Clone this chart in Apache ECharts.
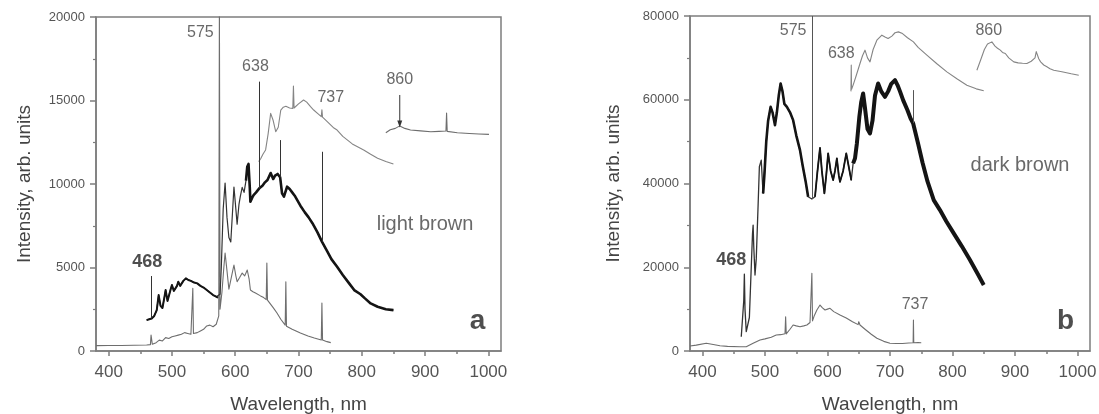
<!DOCTYPE html>
<html><head><meta charset="utf-8">
<script src="https://cdn.jsdelivr.net/npm/echarts@6/dist/echarts.min.js"></script>
<style>html,body{margin:0;padding:0;background:#fff}#c{width:1099px;height:414px}</style>
</head><body><div id="c"></div>
<script>
// ---------- data ----------
const xTicks = [400, 500, 600, 700, 800, 900, 1000];
const xMinorTicks = [450, 550, 650, 750, 850, 950];

// panel a (light brown)
const aLower = [[380,320],[400,330],[420,330],[440,340],[460,360],[466,380],[467,950],[469,400],[475,500],[480,650],[485,600],[490,800],[495,750],[500,850],[505,900],[510,950],[515,1000],[520,1100],[525,1050],[530,1000],[532,1050],[533,3750],[534,1050],[540,1100],[545,1200],[550,1300],[555,1500],[560,1550],[565,1450],[570,1600],[574,2100],[575,21000],[576,2500],[579,3500],[582,5000],[584,5870],[587,4800],[590,3700],[593,3650],[596,4800],[598,5150],[601,4500],[603,4150],[607,4400],[611,4670],[615,4500],[619,4850],[622,4300],[624,3650],[628,3550],[632,3470],[640,3300],[645,3200],[649,3080],[650,5270],[651,3050],[660,2600],[666,2275],[672,1900],[679,1550],[680,4150],[681,1480],[690,1300],[703,1080],[715,900],[725,780],[736,660],[737,2870],[738,660],[745,560],[751,500]];
const aMain = [[460,1850],[464,1900],[468,1950],[472,2100],[476,2450],[479,3350],[482,2700],[485,2575],[488,3200],[490,3650],[493,3000],[495,3050],[498,3700],[500,3950],[503,3600],[505,3550],[508,3900],[510,4150],[513,3900],[515,3950],[518,4200],[522,4350],[526,4250],[530,4200],[535,4100],[540,4050],[545,3900],[550,3800],[555,3650],[560,3500],[565,3350],[570,3250],[573,3200],[576,3400],[578,5000],[581,8500],[584,10060],[587,8000],[590,6800],[593,6530],[596,8500],[598,9820],[601,8500],[603,7600],[606,8800],[608,9240],[611,9800],[614,9500],[617,10200],[619,11030],[621,11200],[623,9800],[624,8940],[627,9200],[629,9340],[633,9500],[638,9740],[643,9900],[647,10100],[651,10240],[656,10660],[660,10300],[663,10500],[667,10600],[671,10400],[674,9440],[677,9240],[682,9840],[686,9700],[690,9500],[694,9300],[698,9040],[703,8700],[710,8300],[716,8000],[722,7650],[730,7100],[737,6550],[745,6000],[752,5500],[761,5050],[770,4550],[780,4050],[788,3650],[798,3400],[805,3150],[814,2850],[825,2650],[838,2500],[850,2450]];
const aMainSpikes = [[468,1950,4490],[638,9740,16130],[671,10400,12630],[737,6550,11930]];
const aUpper = [[637,11340],[640,11500],[644,11800],[648,12040],[652,13000],[656,14230],[660,13800],[664,13130],[668,13400],[672,14430],[676,14600],[680,14650],[686,14550],[691,14530],[692,15870],[693,14550],[700,14800],[708,15030],[713,14900],[719,14630],[724,14430],[731,14200],[736,14030],[737,14450],[738,14000],[745,13750],[756,13350],[761,13230],[770,12850],[785,12400],[803,12040],[814,11780],[825,11540],[838,11350],[850,11200]];
const aNIR = [[838,13070],[845,13250],[853,13330],[860,13480],[868,13330],[877,13230],[893,13180],[909,13130],[922,13150],[933,13170],[934,14250],[935,13150],[951,13070],[970,13020],[985,12990],[1001,12970]];
const aArrow = [[860,15330],[860,13600]];
const aLabels = [[545,19050,'575'],[632,17030,'638'],[751,15170,'737'],[860,16230,'860']];
const aPeak = [[461,5350,'468']];
const aName = [[900,7550,'light brown']];
const aTag = [[983,1750,'a']];

// panel b (dark brown)
const bLower = [[380,1190],[390,1400],[406,1840],[415,1600],[428,1270],[440,1100],[460,1030],[470,1030],[481,1840],[492,2630],[500,2900],[510,3300],[518,3820],[525,3900],[532,4100],[533,8190],[534,4100],[540,5200],[545,6200],[550,6000],[556,5800],[562,6000],[567,6200],[572,6800],[575,18540],[576,7200],[579,8500],[583,9800],[588,10980],[592,10300],[596,9790],[600,10000],[604,10190],[610,9400],[620,8590],[630,7900],[640,7000],[649,6300],[650,6990],[652,6200],[660,5200],[670,4000],[679,3030],[680,3410],[681,3000],[690,2300],[700,1840],[710,1800],[720,1800],[730,1900],[737,1980],[737.5,7400],[738,1980],[745,2000],[750,1980]];
const bMain = [[462,3410],[465,3600],[466,12000],[467,18380],[468,10000],[470,4610],[472,4800],[475,8000],[478,20000],[480,28000],[481,30070],[482,25000],[484,18140],[486,22000],[489,35000],[491,44000],[494,45580],[496,40000],[497,37640],[499,42000],[502,50000],[505,55000],[509,58300],[512,57000],[516,53940],[519,57000],[522,61000],[525,63890],[528,62000],[531,59000],[535,58300],[540,57000],[545,55130],[550,51500],[556,47970],[560,44500],[565,40500],[569,36830],[575,36300],[580,36830],[584,43000],[588,48500],[591,43000],[595,37640],[598,42000],[601,47180],[605,43000],[609,40810],[612,43000],[615,46000],[618,42000],[620,40400],[625,43000],[630,47180],[634,44000],[638,40810],[641,44800],[644,46000],[647,49570],[651,56000],[654,59500],[657,61500],[660,58000],[664,53000],[668,51960],[672,55000],[676,61000],[681,63890],[686,62000],[692,60700],[697,62000],[702,63800],[708,64680],[712,63500],[716,62000],[721,59900],[728,57500],[733,55500],[737,54400],[745,49500],[752,45000],[760,40500],[770,36040],[780,33650],[790,31000],[802,28090],[815,25000],[828,21720],[840,18500],[850,15750]];
const bMainSpikes = [[575,36300,80000],[737,54400,62300]];
const bUpper = [[637.5,62000],[638,68260],[638.5,62500],[641,63500],[646,65800],[652,68660],[656,70500],[660,71840],[664,70000],[668,69050],[673,72000],[679,74220],[687,75420],[692,75000],[697,74620],[703,75200],[708,76000],[713.5,76210],[720,75800],[728,74800],[737.5,73820],[745,72500],[759,70640],[775,68600],[791,66660],[807,65000],[823,63480],[838,62600],[850,62130]];
const bNIR = [[839,67060],[845,69500],[851,72000],[856,73300],[863,73820],[868,72800],[872,72300],[876.5,71840],[880,71300],[884.5,71050],[890,70000],[898,69050],[905,68800],[912,68700],[919,68660],[926,69200],[932,70000],[934,71500],[935,71050],[938,69800],[941,69050],[946,68300],[951,67860],[956,67400],[962,67060],[975,66700],[990,66200],[1002,65870]];
const bLabels = [[545,76610,'575'],[622,71050,'638'],[858,76610,'860'],[740,10980,'737']];
const bPeak = [[446,21720,'468']];
const bName = [[908,44390,'dark brown']];
const bTag = [[981,7000,'b']];

// ---------- chart ----------
const FONT = '"Liberation Sans", Arial, Helvetica, sans-serif';
const AX = '#7d7d7d';
const grids = [
  {left: 96, top: 17, width: 405, height: 334, show: true, borderColor: AX, borderWidth: 1.5,
    backgroundColor: 'transparent', containLabel: false, outerBoundsMode: 'none'},
  {left: 690, top: 16, width: 400, height: 335, show: true, borderColor: AX, borderWidth: 1.5,
    backgroundColor: 'transparent', containLabel: false, outerBoundsMode: 'none'}
];
function xMain(g) {
  return {type: 'value', gridIndex: g, min: 380, max: 1020, position: 'bottom',
    name: 'Wavelength, nm', nameLocation: 'middle', nameGap: 44,
    nameTextStyle: {fontFamily: FONT, fontSize: 19, color: '#444'},
    axisLine: {show: true, lineStyle: {color: AX, width: 1.5}},
    axisTick: {show: true, length: 5, inside: false, customValues: xTicks, lineStyle: {color: AX, width: 1.5}},
    axisLabel: {show: true, customValues: xTicks, margin: 13, fontFamily: FONT, fontSize: 17, color: '#555',
      formatter: v => String(v)},
    splitLine: {show: false}, minorTick: {show: false}};
}
function xMinor(g) {
  return {type: 'value', gridIndex: g, min: 380, max: 1020, position: 'bottom',
    axisLine: {show: false},
    axisTick: {show: true, length: 3, customValues: xMinorTicks, lineStyle: {color: AX, width: 1.5}},
    axisLabel: {show: false}, splitLine: {show: false}};
}
function yAx(g, max, interval) {
  return {type: 'value', gridIndex: g, min: 0, max: max, interval: interval,
    name: 'Intensity, arb. units', nameLocation: 'middle', nameGap: g === 0 ? 62 : 67,
    nameTextStyle: {fontFamily: FONT, fontSize: 19, color: '#444'},
    axisLine: {show: true, lineStyle: {color: AX, width: 1.5}},
    axisTick: {show: true, length: 6, lineStyle: {color: AX, width: 1.5}},
    minorTick: {show: true, splitNumber: 2, length: 3, lineStyle: {color: AX, width: 1.2}},
    axisLabel: {margin: 11, fontFamily: FONT, fontSize: 13, color: '#555', formatter: v => String(v)},
    splitLine: {show: false}};
}
function line(xi, yi, data, color, width, z) {
  return {type: 'line', xAxisIndex: xi, yAxisIndex: yi, data: data, showSymbol: false, symbol: 'none',
    lineStyle: {color: color, width: width, join: 'round'}, silent: true, clip: true, z: z || 3};
}
function segment(data, lo, hi) { return data.filter(p => p[0] >= lo && p[0] <= hi); }
function spikes(xi, yi, list, color) {
  return {type: 'line', xAxisIndex: xi, yAxisIndex: yi, data: [], silent: true, z: 4,
    markLine: {silent: true, symbol: ['none', 'none'], animation: false, label: {show: false},
      lineStyle: {color: color, width: 1, type: 'solid'},
      emphasis: {disabled: true},
      data: list.map(s => [{coord: [s[0], s[1]]}, {coord: [s[0], s[2]]}])}};
}
function texts(xi, yi, arr, size, weight, color) {
  return {type: 'scatter', xAxisIndex: xi, yAxisIndex: yi, symbolSize: 0, silent: true, z: 5,
    data: arr.map(d => ({value: [d[0], d[1]], name: d[2]})),
    label: {show: true, position: 'inside', formatter: p => p.name, fontFamily: FONT,
      fontSize: size, fontWeight: weight, color: color}};
}
const THIN = '#6e6e6e', LIGHT = '#858585', DARK = '#141414';
const option = {
  animation: false,
  backgroundColor: '#fff',
  grid: grids,
  xAxis: [xMain(0), xMinor(0), xMain(1), xMinor(1)],
  yAxis: [yAx(0, 20000, 5000), yAx(1, 80000, 20000)],
  series: [
    line(0, 0, aLower, THIN, 1.1),
    line(0, 0, aUpper, LIGHT, 1.1),
    line(0, 0, aNIR, THIN, 1.1),
    line(0, 0, aMain, '#333', 1.2),
    line(0, 0, segment(aMain, 460, 574), DARK, 2.0, 4),
    line(0, 0, segment(aMain, 617, 850), DARK, 2.6, 4),
    spikes(0, 0, aMainSpikes, '#333'),
    {type: 'line', xAxisIndex: 0, yAxisIndex: 0, data: aArrow, showSymbol: false, symbol: 'none', silent: true,
      lineStyle: {color: '#333', width: 1},
      markPoint: {symbol: 'triangle', symbolSize: [5, 7], symbolRotate: 180, itemStyle: {color: '#333'},
        label: {show: false}, data: [{coord: aArrow[1]}]}},
    texts(0, 0, aLabels, 16, 'normal', '#444'),
    texts(0, 0, aPeak, 18, 'bold', '#222'),
    texts(0, 0, aName, 20, 'normal', '#444'),
    texts(0, 0, aTag, 28, 'bold', '#222'),
    line(2, 1, bLower, THIN, 1.1),
    line(2, 1, bUpper, LIGHT, 1.1),
    line(2, 1, bNIR, LIGHT, 1.1),
    line(2, 1, bMain, '#333', 1.3),
    line(2, 1, segment(bMain, 497, 572), DARK, 2.6, 4),
    line(2, 1, segment(bMain, 578, 640), DARK, 1.8, 4),
    line(2, 1, segment(bMain, 640, 850), DARK, 4.0, 4),
    spikes(2, 1, bMainSpikes, '#555'),
    texts(2, 1, bLabels, 16, 'normal', '#444'),
    texts(2, 1, bPeak, 18, 'bold', '#222'),
    texts(2, 1, bName, 20, 'normal', '#444'),
    texts(2, 1, bTag, 28, 'bold', '#222')
  ]
};
const chart = echarts.init(document.getElementById('c'), null, {renderer: 'canvas'});
chart.setOption(option);
</script></body></html>
